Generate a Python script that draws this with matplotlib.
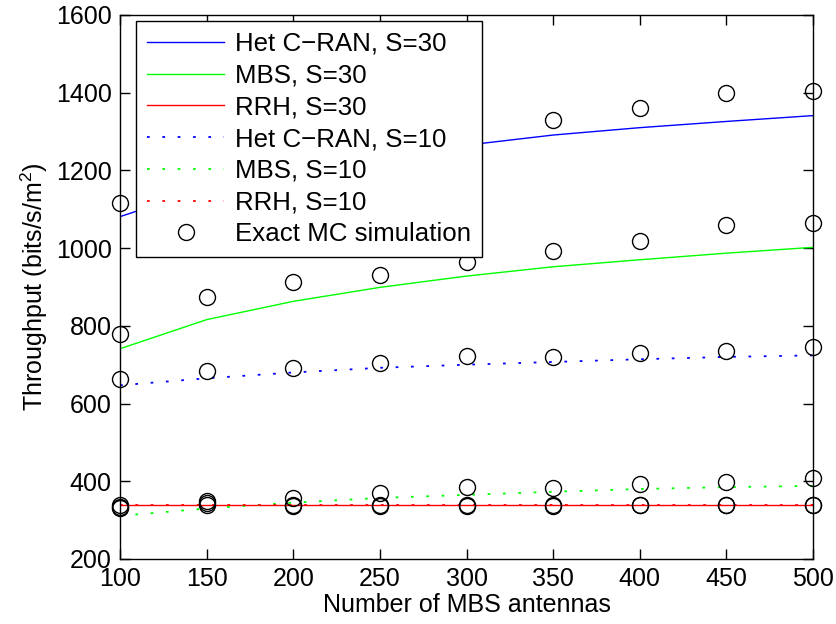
import matplotlib
matplotlib.use("Agg")
import matplotlib.pyplot as plt

plt.rcParams['font.family'] = ['Liberation Sans', 'DejaVu Sans']
plt.rcParams['mathtext.fontset'] = 'custom'
plt.rcParams['mathtext.rm'] = 'Liberation Sans'

antennas = [100, 150, 200, 250, 300, 350, 400, 450, 500]

# analytical curves
het_s30 = [1081, 1155, 1201, 1236, 1265, 1291, 1310, 1326, 1341]
mbs_s30 = [741, 816, 863, 899, 928, 952, 970, 987, 1002]
rrh_s30 = [338, 338, 338, 338, 338, 338, 338, 338, 338]
het_s10 = [647, 665, 680, 692, 700, 707, 714, 720, 724]
mbs_s10 = [311, 330, 345, 357, 365, 373, 380, 385, 388]
rrh_s10 = [338, 338, 338, 338, 338, 338, 338, 338, 338]

# Monte Carlo points
mc_het_s30 = [1117, 1190, 1240, 1280, 1300, 1330, 1360, 1400, 1404]
mc_mbs_s30 = [780, 875, 912, 932, 963, 993, 1019, 1060, 1064]
mc_rrh_s30 = [338, 344, 337, 337, 337, 337, 338, 338, 338]
mc_het_s10 = [663, 684, 691, 704, 723, 719, 729, 736, 746]
mc_mbs_s10 = [331, 350, 356, 369, 386, 382, 393, 397, 409]
mc_rrh_s10 = [334, 338, 339, 338, 338, 338, 339, 339, 338]

fs = 18
dot = (0, (1.5, 7))

fig = plt.figure(figsize=(8.37, 6.24), dpi=100)
ax = fig.add_axes([0.1434, 0.1042, 0.8279, 0.8718])

ax.plot(antennas, het_s30, color=(0, 0, 1), lw=1, label='Het C\u2212RAN, S=30')
ax.plot(antennas, mbs_s30, color=(0, 1, 0), lw=1, label='MBS, S=30')
ax.plot(antennas, rrh_s30, color=(1, 0, 0), lw=1, label='RRH, S=30')
ax.plot(antennas, het_s10, color=(0, 0, 1), lw=1.3, ls=dot, label='Het C\u2212RAN, S=10')
ax.plot(antennas, mbs_s10, color=(0, 1, 0), lw=1.3, ls=dot, label='MBS, S=10')
ax.plot(antennas, rrh_s10, color=(1, 0, 0), lw=1.3, ls=dot, label='RRH, S=10')

mc_sets = [mc_het_s30, mc_mbs_s30, mc_rrh_s30, mc_het_s10, mc_mbs_s10, mc_rrh_s10]
for i, vals in enumerate(mc_sets):
    ax.plot(antennas, vals, ls='none', marker='o', ms=11.5, mfc='none',
            mec='black', mew=1, clip_on=False, zorder=5,
            label='Exact MC simulation' if i == 0 else None)

ax.set_xlim(100, 500)
ax.set_ylim(200, 1600)
ax.set_xticks(range(100, 501, 50))
ax.set_yticks(range(200, 1601, 200))
ax.tick_params(direction='in', length=7, width=1, labelsize=fs,
               top=True, right=True, pad=6)
for s in ax.spines.values():
    s.set_linewidth(1)

ax.set_xlabel('Number of MBS antennas', fontsize=fs, labelpad=1)
ax.set_ylabel('Throughput (bits/s/m$^2$)', fontsize=fs, labelpad=4)

leg = ax.legend(loc='upper left', bbox_to_anchor=(0.023, 0.989), fontsize=18.6,
                frameon=True, fancybox=False, framealpha=1, edgecolor='black',
                handlelength=3.0, handletextpad=0.42, labelspacing=0.3,
                borderpad=0.42, borderaxespad=0)
leg.get_frame().set_linewidth(1)
leg.set_zorder(10)

fig.savefig('out.png', dpi=100)
